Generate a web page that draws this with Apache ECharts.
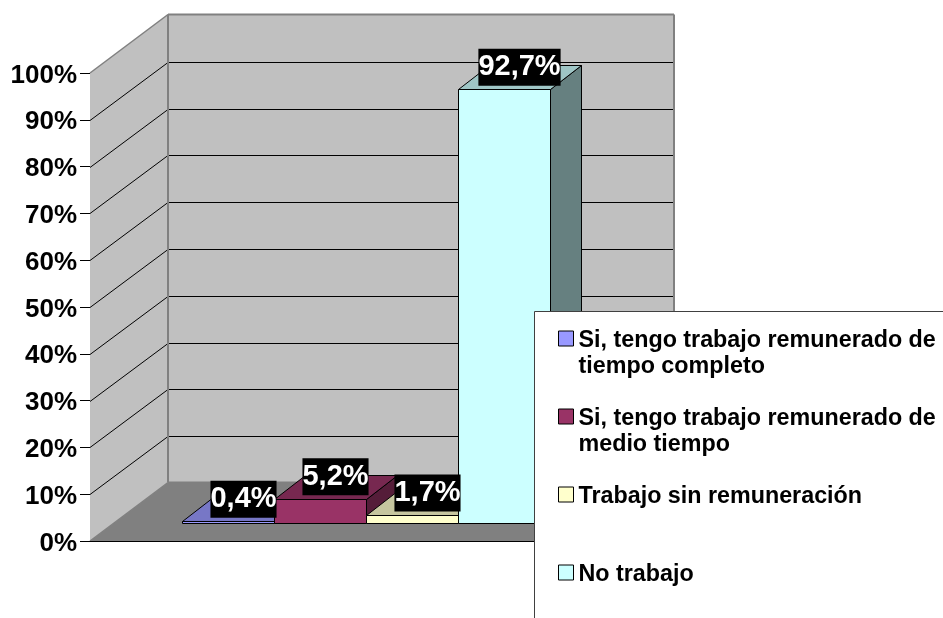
<!DOCTYPE html>
<html><head><meta charset="utf-8">
<style>html,body{margin:0;padding:0;background:#fff;overflow:hidden}#c{width:943px;height:618px}</style>
<script src="https://cdn.jsdelivr.net/npm/echarts@6/dist/echarts.min.js"></script>
</head><body><div id="c"></div>
<script>
const seriesNames = ['Si, tengo trabajo remunerado de tiempo completo','Si, tengo trabajo remunerado de medio tiempo','Trabajo sin remuneración','No trabajo'];
const legendLines = [['Si, tengo trabajo remunerado de','tiempo completo'],['Si, tengo trabajo remunerado de','medio tiempo'],['Trabajo sin remuneración'],['No trabajo']];
const values = [0.4,5.2,1.7,92.7];
const valueLabels = ['0,4%','5,2%','1,7%','92,7%'];
const yTicks = [0,10,20,30,40,50,60,70,80,90,100];
const frontColors = ['#9999FF','#993366','#FFFFCC','#CCFFFF'];
const topColors = ['#7777C6','#772850','#C6C69F','#9FC6C6'];
const sideColors = ['#555580','#551D39','#8F8F73','#668080'];

const FONT = '"Liberation Sans", Arial, sans-serif';
const WALL = [78,-58.5], FLOOR_OFF = [23,-18], BAR_D = [31,-24];
const crisp = v => Math.round(v)+0.5;
const pt = (p,o) => [p[0]+o[0],p[1]+o[1]];
const poly = (points,fill,stroke,z2) => ({type:'polygon',z2:z2||0,shape:{points},style:{fill:fill,stroke:stroke||null,lineWidth:1}});
const line = (a,b,stroke,w) => ({type:'line',shape:{x1:a[0],y1:a[1],x2:b[0],y2:b[1]},style:{stroke,lineWidth:w||1,fill:null}});

function renderRoom(params, api){
  const size = api.size([1,0])[0];
  const o = api.coord([0,0]); const left = o[0]-size/2, right = o[0]+size/2;
  const bl=[left,api.coord([0,0])[1]], tl=[left,api.coord([0,100])[1]], br=[right,bl[1]];
  const ch=[
    poly([tl,pt(tl,WALL),pt(bl,WALL),bl],'#C0C0C0'),
    poly([pt(tl,WALL),[right+WALL[0],tl[1]+WALL[1]],pt(br,WALL),pt(bl,WALL)],'#C0C0C0'),
    poly([bl,pt(bl,WALL),pt(br,WALL),br],'#808080')
  ];
  yTicks.filter(t=>t>0&&t<100).forEach(t=>{
    const y=crisp(api.coord([0,t])[1]), a=[left,y], b=pt(a,WALL); b[1]=crisp(b[1]);
    ch.push(line(a,b,'#000'));
    ch.push(line(b,[right+WALL[0],b[1]],'#000'));
  });
  const g='#808080';
  ch.push(line(tl,pt(tl,WALL),g,1.5));
  ch.push(line(pt(tl,WALL),[right+WALL[0],tl[1]+WALL[1]],g,2));
  ch.push(line([right+WALL[0],tl[1]+WALL[1]],pt(br,WALL),g,2));
  ch.push(line(pt(tl,WALL),pt(bl,WALL),g,2));
  ch.push(line(bl,pt(bl,WALL),g,1.5));
  ch.push(line(pt(bl,WALL),pt(br,WALL),g,2));
  ch.push(line([left,crisp(bl[1])],[right,crisp(bl[1])],'#000'));
  return {type:'group',children:ch};
}
function barGeom(i,api){
  const size=api.size([1,0])[0], w=size/5.5, c=api.coord([0,0]);
  const x=c[0]+FLOOR_OFF[0]+(i-2)*w, y0=c[1]+FLOOR_OFF[1], yT=api.coord([0,api.value(1)])[1]+FLOOR_OFF[1];
  return {x,w,y0,yT};
}
function renderBar(i){
  return function(params, api){
    const g=barGeom(i,api);
    const x1=crisp(g.x), x2=crisp(g.x+g.w), y0=crisp(g.y0), yT=crisp(g.yT);
    const a=[x1,yT], b=[x2,yT], c=[x2,y0];
    return {type:'group',children:[
      poly([b,pt(b,BAR_D),pt(c,BAR_D),c],sideColors[i],'#000'),
      poly([a,pt(a,BAR_D),pt(b,BAR_D),b],topColors[i],'#000'),
      poly([a,b,c,[x1,y0]],frontColors[i],'#000')
    ]};
  };
}
function renderLabel(params, api){
  const i=params.dataIndex, g=barGeom(i,api);
  return {type:'text',style:{
    x:g.x+g.w/2+BAR_D[0]/2, y:g.yT+BAR_D[1]/2-10,
    text:valueLabels[i], fill:'#fff', font:'bold 29px '+FONT,
    backgroundColor:'#000', padding:[4,0,4,0], align:'center', verticalAlign:'middle'
  }};
}
const barSeries = seriesNames.map((n,i)=>({
  type:'custom', name:n, z:2+i*0.01, coordinateSystem:'cartesian2d',
  itemStyle:{color:frontColors[i]}, renderItem:renderBar(i),
  data:[[0,values[i]]], encode:{x:0,y:1}, silent:true
}));
const LH=26, GAP_H=31;
const legendText=n=>{
  const l=legendLines[seriesNames.indexOf(n)];
  return ['{g|}','{t|'+l[0]+'}',l[1]?'{t|'+l[1]+'}':'{t|}'].join('\n');
};
const chart=echarts.init(document.getElementById('c'),null,{renderer:'canvas'});
chart.setOption({
  animation:false, backgroundColor:'#fff',
  grid:{left:90,top:73,width:506,height:468,containLabel:false},
  xAxis:{type:'category',data:[''],show:false},
  yAxis:{type:'value',min:0,max:100,interval:10,
    axisLine:{show:true,lineStyle:{color:'#555',width:1}},
    axisTick:{show:true,length:10,lineStyle:{color:'#000'}},
    splitLine:{show:false},
    axisLabel:{margin:13,color:'#000',fontFamily:FONT,fontWeight:'bold',fontSize:26,
      formatter:v=>'{g|}\n{v|'+v+'%}',
      rich:{g:{lineHeight:5,height:5,fontSize:1},v:{color:'#000',fontFamily:FONT,fontWeight:'bold',fontSize:26,lineHeight:30}}}},
  legend:{left:558,top:297,orient:'vertical',padding:0,itemGap:-5,z:10,
    itemWidth:15,itemHeight:15,icon:'rect',itemStyle:{borderColor:'#000',borderWidth:1},
    textStyle:{fontFamily:FONT,fontWeight:'bold',fontSize:23,color:'#000',lineHeight:LH,
      rich:{g:{lineHeight:GAP_H,height:GAP_H,fontSize:1},t:{fontFamily:FONT,fontWeight:'bold',fontSize:23.3,color:'#000',lineHeight:LH,height:LH}}},
    selectedMode:false,
    formatter:legendText,
    data:seriesNames.map(n=>({name:n,icon:'rect'}))},
  graphic:[{type:'rect',z:5,zlevel:0,silent:true,shape:{x:534.5,y:311.5,width:430,height:330},
    style:{fill:'#fff',stroke:'#404040',lineWidth:1}}],
  series:[
    {type:'custom',z:1,silent:true,renderItem:renderRoom,data:[[0,0]],encode:{x:0,y:1}},
    ...barSeries,
    {type:'custom',z:3,silent:true,renderItem:renderLabel,data:values.map(v=>[0,v]),encode:{x:0,y:1}}
  ]
});
</script></body></html>
